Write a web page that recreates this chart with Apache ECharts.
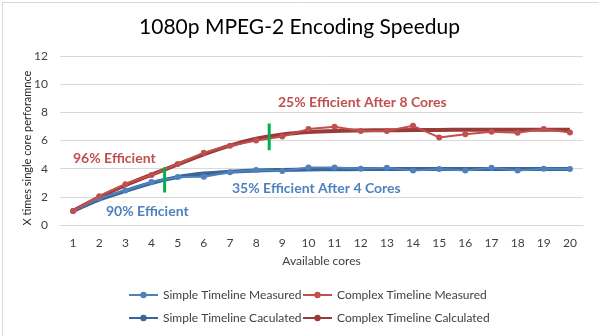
<!DOCTYPE html>
<html>
<head>
<meta charset="utf-8">
<script src="https://cdn.jsdelivr.net/npm/echarts@6/dist/echarts.min.js"></script>
<style>
  html, body { margin: 0; padding: 0; background: #fff; }
  #chart { width: 599px; height: 336px; }
</style>
</head>
<body>
<div id="chart"></div>
<script>
// Cores available to the encoder
const cores = ['1','2','3','4','5','6','7','8','9','10','11','12','13','14','15','16','17','18','19','20'];

// Speedup relative to one core
const simpleMeasured   = [1, 1.9, 2.45, 3.05, 3.4, 3.43, 3.75, 3.9, 3.83, 4.08, 4.08, 3.99, 4.06, 3.87, 3.97, 3.87, 4.06, 3.87, 3.99, 3.97];
const complexMeasured  = [1, 2.05, 2.9, 3.55, 4.33, 5.13, 5.63, 6.0, 6.28, 6.81, 6.97, 6.67, 6.67, 7.04, 6.22, 6.45, 6.62, 6.55, 6.81, 6.57];
const simpleCalculated = [1, 1.8, 2.42, 2.98, 3.4, 3.65, 3.78, 3.87, 3.91, 3.94, 3.96, 3.97, 3.97, 3.97, 3.97, 3.97, 3.97, 3.97, 3.97, 3.97];
const complexCalculated= [1, 1.97, 2.82, 3.57, 4.3, 5.02, 5.64, 6.12, 6.43, 6.6, 6.68, 6.71, 6.73, 6.74, 6.75, 6.76, 6.76, 6.76, 6.76, 6.76];

// Green markers showing where scaling flattens out (x in core units, y range)
const breakpoints = [
  { x: 4.5, from: 2.3, to: 4.1 },
  { x: 8.5, from: 5.3, to: 7.2 }
];

const yTicks = { min: 0, max: 12, interval: 2 };

const FONT = 'Lato, "Open Sans", sans-serif';
const C = {
  simpleM: '#4F81BD',
  simpleC: '#3A6599',
  complexM: '#C0504D',
  complexC: '#993B38',
  green: '#00B050'
};

const chart = echarts.init(document.getElementById('chart'));

const breakSeries = breakpoints.map((b, i) => ({
  name: 'break' + i,
  type: 'line',
  xAxisIndex: 1,
  data: [[b.x, b.from], [b.x, b.to]],
  symbol: 'none',
  lineStyle: { color: C.green, width: 3 },
  z: 10,
  silent: true
}));

// One legend box per entry, laid out as a 2x2 table
const legendText = { fontFamily: FONT, fontSize: 12, color: '#404040' };
const legendCell = (name, left, top) => ({
  data: [name], left, top, padding: 0,
  itemWidth: 29, itemHeight: 8, itemGap: 0,
  textStyle: legendText
});

chart.setOption({
  animation: false,
  textStyle: { fontFamily: FONT },
  title: {
    text: '1080p MPEG-2 Encoding Speedup',
    left: 'center',
    top: 12,
    textStyle: { fontFamily: FONT, fontSize: 21, fontWeight: 'normal', color: '#000' }
  },
  grid: { left: 60, right: 16, top: 56, bottom: 111 },
  legend: [
    legendCell('Simple Timeline Measured', 128, 289),
    legendCell('Complex Timeline Measured', 302, 289),
    legendCell('Simple Timeline Caculated', 128, 312),
    legendCell('Complex Timeline Calculated', 302, 312)
  ],
  xAxis: [
    {
      type: 'category',
      data: cores,
      boundaryGap: true,
      name: 'Available cores',
      nameLocation: 'middle',
      nameGap: 30,
      nameTextStyle: { fontFamily: FONT, fontSize: 12, color: '#404040' },
      axisLine: { lineStyle: { color: '#D9D9D9' } },
      axisTick: { show: false },
      axisLabel: { fontFamily: FONT, fontSize: 12, color: '#404040', margin: 12 }
    },
    {
      type: 'value',
      min: 0.5, max: 20.5,
      show: false
    }
  ],
  yAxis: {
    type: 'value',
    min: yTicks.min, max: yTicks.max, interval: yTicks.interval,
    axisLine: { show: false },
    axisTick: { show: false },
    axisLabel: { fontFamily: FONT, fontSize: 12, color: '#404040', margin: 12 },
    splitLine: { lineStyle: { color: '#D9D9D9' } }
  },
  series: [
    {
      name: 'Simple Timeline Caculated', type: 'line', data: simpleCalculated,
      smooth: 0.3, symbol: 'none',
      lineStyle: { color: C.simpleC, width: 4 }, itemStyle: { color: C.simpleC }, z: 2
    },
    {
      name: 'Complex Timeline Calculated', type: 'line', data: complexCalculated,
      smooth: 0.3, symbol: 'none',
      lineStyle: { color: C.complexC, width: 4 }, itemStyle: { color: C.complexC }, z: 2
    },
    {
      name: 'Simple Timeline Measured', type: 'line', data: simpleMeasured,
      symbol: 'circle', symbolSize: 6,
      lineStyle: { color: C.simpleM, width: 2 }, itemStyle: { color: C.simpleM }, z: 3
    },
    {
      name: 'Complex Timeline Measured', type: 'line', data: complexMeasured,
      symbol: 'circle', symbolSize: 6,
      lineStyle: { color: C.complexM, width: 2 }, itemStyle: { color: C.complexM }, z: 3
    },
    ...breakSeries
  ],
  graphic: [
    {
      type: 'rect', left: 0, top: 0, silent: true,
      shape: { x: 0.5, y: 0.5, width: 598, height: 335 },
      style: { fill: 'none', stroke: '#D9D9D9', lineWidth: 1 }
    },
    {
      type: 'text', x: 27, y: 148, rotation: Math.PI / 2, silent: true,
      style: {
        text: 'X times single core perforamnce', fill: '#262626',
        font: '11px ' + FONT, align: 'center', verticalAlign: 'middle'
      }
    },
    { type: 'text', left: 73, top: 151, style: { text: '96% Efficient', fill: C.complexM, font: 'bold 14px ' + FONT } },
    { type: 'text', left: 106, top: 204, style: { text: '90% Efficient', fill: C.simpleM, font: 'bold 14px ' + FONT } },
    { type: 'text', left: 232, top: 181, style: { text: '35% Efficient After 4 Cores', fill: C.simpleM, font: 'bold 14px ' + FONT } },
    { type: 'text', left: 278, top: 95, style: { text: '25% Efficient After 8 Cores', fill: C.complexM, font: 'bold 14px ' + FONT } }
  ]
});
</script>
</body>
</html>
